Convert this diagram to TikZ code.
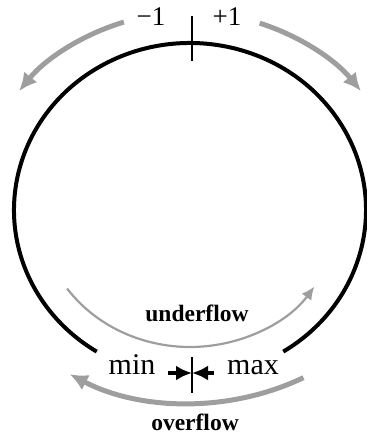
\documentclass[tikz,border=0pt]{standalone}
\usepackage{fontspec}
\setmainfont{Liberation Serif}
\usetikzlibrary{arrows.meta}

\begin{document}
\begin{tikzpicture}[
    x=1pt, y=1pt,
    ring/.style={draw=black, line width=4pt},
    flow/.style={draw=black!38, line width=5pt, -{Latex[length=18pt, width=17pt]}},
    thinflow/.style={draw=black!38, line width=2.2pt, -{Latex[length=13pt, width=12pt]}},
    tickline/.style={draw=black, line width=2.4pt},
    stopper/.style={draw=black, line width=3.2pt, -{Latex[length=16pt, width=15pt]}},
    sign/.style={font=\fontsize{27}{32}\selectfont, anchor=base},
    bound/.style={font=\fontsize{30}{34}\selectfont, anchor=base},
    flowlabel/.style={font=\fontsize{23.5}{28}\selectfont\bfseries, anchor=base}
  ]
    \useasboundingbox (0,0) rectangle (367,437);
    \coordinate (c) at (190,227);

    % Ring
    \draw[ring] (c) ++(-58:176 and 167) arc[start angle=-58, end angle=238, x radius=176, y radius=167];

    % Zero mark at top
    \coordinate (ztop) at (192,421);
    \coordinate (zbot) at (192,376);
    \draw[tickline] (ztop) -- (zbot);
    \node[sign] (dec) at (151,411) {−1};
    \node[sign] (inc) at (227,411) {+1};

    % Step arrows
    \draw[flow] (c) ++(108:214 and 197.6) arc[start angle=108, end angle=143, x radius=214, y radius=197.6];
    \draw[flow] (c) ++(71:214 and 197.6) arc[start angle=71, end angle=37, x radius=214, y radius=197.6];

    % Wrap point at bottom
    \coordinate (wtop) at (192,80);
    \coordinate (wbot) at (192,44);
    \coordinate (wmid) at (192,64);
    \coordinate (wleft) at (168,64);
    \coordinate (wright) at (214,64);
    \draw[tickline] (wtop) -- (wbot);
    \draw[stopper] (wleft) -- (wmid);
    \draw[stopper] (wright) -- (wmid);
    \node[bound] (min) at (132,62) {min};
    \node[bound] (max) at (253,62) {max};

    % Underflow / overflow
    \draw[thinflow] (c) ++(215:150 and 137) arc[start angle=215, end angle=326, x radius=150, y radius=137];
    \node[flowlabel] (under) at (197,115) {underflow};
    \draw[flow] (c) ++(299.7:229 and 193) arc[start angle=299.7, end angle=238.3, x radius=229, y radius=193];
    \node[flowlabel] (over) at (195,6) {overflow};
\end{tikzpicture}
\end{document}
